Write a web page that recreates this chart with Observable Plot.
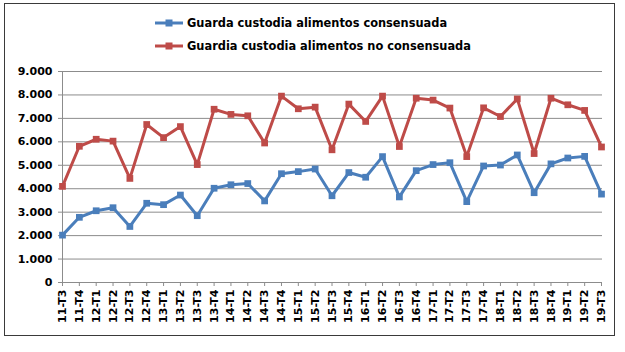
<!DOCTYPE html>
<html>
<head>
<meta charset="utf-8">
<script src="https://cdn.jsdelivr.net/npm/d3@7"></script>
<script src="https://cdn.jsdelivr.net/npm/@observablehq/plot@0.6"></script>
<style>
  html, body { margin: 0; padding: 0; background: #fff; }
  #wrap { position: relative; width: 625px; height: 352px; overflow: hidden; font-family: "DejaVu Sans", Verdana, sans-serif; }
  #frame { position: absolute; left: 4px; top: 3px; width: 611px; height: 333px; border: 1px solid #3a3a3a; box-sizing: border-box; }
  #chart { position: absolute; left: 0; top: 0; }
  .leg { position: absolute; left: 155px; height: 14px; display: flex; align-items: center; font-weight: bold; font-size: 11.4px; color: #000; white-space: nowrap; }
  .leg svg { margin-right: 4px; }
</style>
</head>
<body>
<div id="wrap">
  <div id="frame"></div>
  <div id="chart"></div>
  <div id="legend"></div>
</div>
<script>
const categories = ["11-T3","11-T4","12-T1","12-T2","12-T3","12-T4","13-T1","13-T2","13-T3","13-T4",
  "14-T1","14-T2","14-T3","14-T4","15-T1","15-T2","15-T3","15-T4","16-T1","16-T2","16-T3","16-T4",
  "17-T1","17-T2","17-T3","17-T4","18-T1","18-T2","18-T3","18-T4","19-T1","19-T2","19-T3"];
const consensuada = [2020,2780,3060,3190,2390,3380,3320,3730,2850,4020,
  4170,4220,3480,4640,4730,4840,3700,4690,4490,5370,3650,4770,
  5030,5110,3450,4970,5010,5440,3830,5060,5310,5380,3770];
const noConsensuada = [4100,5810,6110,6030,4440,6740,6180,6650,5030,7390,
  7170,7110,5950,7950,7410,7480,5660,7610,6870,7950,5800,7860,
  7780,7440,5370,7450,7080,7830,5500,7860,7580,7340,5780];
const seriesNames = ["Guarda custodia alimentos consensuada", "Guardia custodia alimentos no consensuada"];
const seriesColors = ["#4A7EBB", "#BE4B48"];
const yTicks = [0,1000,2000,3000,4000,5000,6000,7000,8000,9000];

const data = [];
categories.forEach((c, i) => {
  data.push({cat: c, value: consensuada[i], serie: seriesNames[0]});
  data.push({cat: c, value: noConsensuada[i], serie: seriesNames[1]});
});

const fmt = d => d3.format(",")(d).replace(/,/g, ".");

const chart = Plot.plot({
  width: 625,
  height: 352,
  marginLeft: 62,
  marginRight: 24,
  marginTop: 71,
  marginBottom: 70,
  style: {fontFamily: "DejaVu Sans, Verdana, sans-serif", background: "transparent"},
  x: {type: "point", domain: categories, range: [62, 601], padding: 0, round: false},
  y: {domain: [0, 9000], range: [282, 71]},
  color: {domain: seriesNames, range: seriesColors},
  marks: [
    Plot.ruleY(yTicks.filter(d => d > 0), {stroke: "#8c8c8c", strokeWidth: 1, insetRight: -1}),
    Plot.ruleY([0], {stroke: "#8c8c8c", strokeWidth: 1, insetRight: -1}),
    Plot.ruleX([categories[0]], {y1: 0, y2: 9000, stroke: "#8c8c8c", strokeWidth: 1}),
    Plot.axisY({ticks: yTicks, tickFormat: fmt, tickSize: 4, tickPadding: 6, stroke: "#8c8c8c",
      fontWeight: "bold", fontSize: 11, fill: "#000", label: null}),
    Plot.axisX({tickSize: 4, tickPadding: 3, tickRotate: -90, stroke: "#8c8c8c",
      fontWeight: "bold", fontSize: 11, fill: "#000", label: null}),
    Plot.line(data, {x: "cat", y: "value", z: "serie", stroke: "serie", strokeWidth: 3}),
    Plot.dot(data, {x: "cat", y: "value", fill: "serie", symbol: "square", r: 3.8, stroke: "none"})
  ]
});
document.getElementById("chart").appendChild(chart);

const legend = document.getElementById("legend");
const legendTops = [16, 39];
seriesNames.forEach((name, i) => {
  const row = document.createElement("div");
  row.className = "leg";
  row.style.top = legendTops[i] + "px";
  row.innerHTML = `<svg width="28" height="14"><line x1="0" y1="7" x2="28" y2="7" stroke="${seriesColors[i]}" stroke-width="3"/><rect x="10.5" y="3.5" width="7" height="7" fill="${seriesColors[i]}"/></svg><span>${name}</span>`;
  legend.appendChild(row);
});
</script>
</body>
</html>
